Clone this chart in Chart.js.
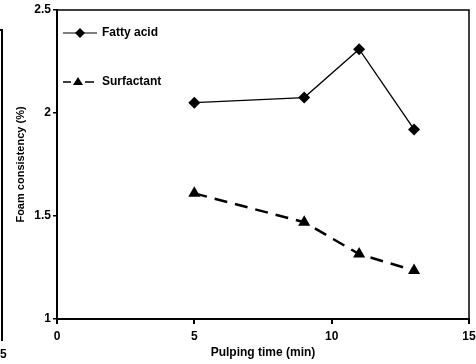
<html>
<head>
    <meta charset="UTF-8">
    <title>Foam consistency</title>
    <script src="https://cdn.jsdelivr.net/npm/chart.js@4.4.1/dist/chart.umd.min.js"></script>
    <style>
        body { margin: 0; background: #fff; }
        #wrap { position: relative; width: 476px; height: 364px; }
        #stray { position: absolute; left: 1px; top: 29px; width: 0; height: 312px; border-left: 2px solid #000; }
        #strayTop { position: absolute; left: 0; top: 29px; width: 3px; border-top: 2px solid #000; }
        #stray5 { position: absolute; left: 0; top: 347px; font: bold 12px "Liberation Sans", Arial, sans-serif; }
    </style>
</head>
<body>
<div id="wrap">
    <canvas id="myChart" width="476" height="364"></canvas>
    <div id="stray"></div><div id="strayTop"></div><div id="stray5">5</div>
</div>

<script>
    var pulpingTime = [5, 9, 11, 13];
    var fattyAcid = [2.05, 2.075, 2.31, 1.92];
    var surfactant = [1.61, 1.47, 1.315, 1.235];
    var xTicks = [0, 5, 10, 15];
    var yTicks = [1, 1.5, 2, 2.5];

    var font = "'Liberation Sans', Arial, sans-serif";

    function pts(ys) {
        return pulpingTime.map(function (x, i) { return {x: x, y: ys[i]}; });
    }

    // legend inside the plot + box around chart area
    var extras = {
        id: 'extras',
        afterDraw: function (chart) {
            var c = chart.ctx, a = chart.chartArea;
            c.save();
            c.strokeStyle = '#000';
            c.lineWidth = 1.5;
            c.beginPath();
            c.moveTo(a.left, a.top);
            c.lineTo(a.right, a.top);
            c.lineTo(a.right, a.bottom);
            c.stroke();

            c.fillStyle = '#000';
            c.font = 'bold 12px ' + font;
            c.textBaseline = 'middle';
            // Fatty acid
            c.lineWidth = 1.2;
            c.beginPath(); c.moveTo(a.left + 6, a.top + 23); c.lineTo(a.left + 40, a.top + 23); c.stroke();
            c.beginPath();
            c.moveTo(a.left + 23, a.top + 18); c.lineTo(a.left + 28, a.top + 23);
            c.lineTo(a.left + 23, a.top + 28); c.lineTo(a.left + 18, a.top + 23); c.closePath(); c.fill();
            c.fillText('Fatty acid', a.left + 45, a.top + 23);
            // Surfactant
            c.lineWidth = 1.5;
            c.beginPath(); c.moveTo(a.left + 6, a.top + 72); c.lineTo(a.left + 14, a.top + 72);
            c.moveTo(a.left + 28, a.top + 72); c.lineTo(a.left + 37, a.top + 72); c.stroke();
            c.beginPath();
            c.moveTo(a.left + 21, a.top + 67); c.lineTo(a.left + 26, a.top + 75);
            c.lineTo(a.left + 16, a.top + 75); c.closePath(); c.fill();
            c.fillText('Surfactant', a.left + 45, a.top + 72);
            c.restore();
        }
    };

    var ctx = document.getElementById('myChart');
    var myChart = new Chart(ctx, {
        type: 'scatter',
        data: {
            datasets: [{
                label: 'Fatty acid',
                data: pts(fattyAcid),
                showLine: true,
                borderColor: '#000',
                backgroundColor: '#000',
                borderWidth: 1.3,
                pointStyle: 'rectRot',
                pointRadius: 6,
                pointBorderWidth: 0
            }, {
                label: 'Surfactant',
                data: pts(surfactant),
                showLine: true,
                borderColor: '#000',
                backgroundColor: '#000',
                borderWidth: 2.5,
                borderDash: [13, 8],
                pointStyle: 'triangle',
                pointRadius: 7,
                pointBorderWidth: 0
            }]
        },
        options: {
            responsive: false,
            animation: false,
            layout: {padding: {left: 0, right: 5, top: 10, bottom: 0}},
            plugins: {legend: {display: false}, tooltip: {enabled: false}},
            scales: {
                x: {
                    type: 'linear',
                    min: 0, max: 15,
                    afterBuildTicks: function (s) { s.ticks = xTicks.map(function (v) { return {value: v}; }); },
                    afterFit: function (s) { s.height = 45; s.paddingLeft = 0; s.paddingRight = 0; },
                    border: {color: '#000', width: 2},
                    grid: {display: true, drawOnChartArea: false, drawTicks: true, tickLength: 5, color: '#000', lineWidth: 2},
                    ticks: {color: '#000', font: {family: font, size: 12, weight: 'bold'}, padding: 5, maxRotation: 0},
                    title: {display: true, text: 'Pulping time (min)', color: '#000', font: {family: font, size: 12, weight: 'bold'}, padding: {top: 0}}
                },
                y: {
                    min: 1, max: 2.5,
                    afterBuildTicks: function (s) { s.ticks = yTicks.map(function (v) { return {value: v}; }); },
                    afterFit: function (s) { s.width = 57; s.paddingTop = 0; s.paddingBottom = 0; },
                    border: {color: '#000', width: 2},
                    grid: {display: true, drawOnChartArea: false, drawTicks: true, tickLength: 4, color: '#000', lineWidth: 1.5},
                    ticks: {
                        color: '#000', font: {family: font, size: 12, weight: 'bold'}, padding: 2,
                        callback: function (v) { return String(v); }
                    },
                    title: {display: true, text: 'Foam consistency (%)', color: '#000', font: {family: font, size: 11, weight: 'bold'}, padding: {top: 14, bottom: 0}}
                }
            }
        },
        plugins: [extras]
    });
</script>
</body>
</html>
